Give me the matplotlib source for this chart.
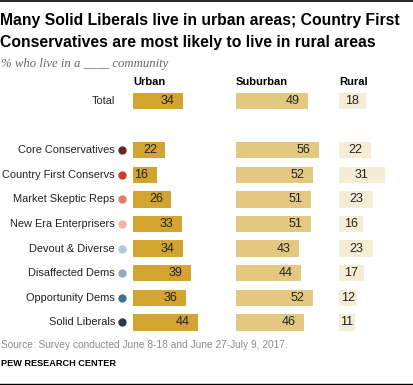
import matplotlib
matplotlib.use("Agg")
import matplotlib.pyplot as plt

# Data
groups = ["Total", "Core Conservatives", "Country First Conservs", "Market Skeptic Reps",
          "New Era Enterprisers", "Devout & Diverse", "Disaffected Dems",
          "Opportunity Dems", "Solid Liberals"]
urban = [34, 22, 16, 26, 33, 34, 39, 36, 44]
suburban = [49, 56, 52, 51, 51, 43, 44, 52, 46]
rural = [18, 22, 31, 23, 16, 23, 17, 12, 11]
dot_colors = [None, "#6b2121", "#c8402d", "#e37c6c", "#f2b2a8",
              "#b3c7da", "#8eabc6", "#4a6f8c", "#2a3a4c"]
columns = ["Urban", "Suburban", "Rural"]

# Layout (pixels)
W, H = 413, 385
plt.rcParams['font.family'] = ['Liberation Sans', 'DejaVu Sans']
fig = plt.figure(figsize=(W / 100, H / 100), dpi=100)

ypos = [0] + [i + 2 for i in range(8)]
px_per_unit = 1.475
row_px = 24.6
top_px = 101 - row_px / 2
bot_px = 101 + 9.5 * row_px
col_left = [133, 236, 339]
col_colors = ["#d3a42f", "#e2c881", "#f5ecd6"]
values = [urban, suburban, rural]

axes = []
for k in range(3):
    width_px = 100 if k < 2 else 70
    ax = fig.add_axes([col_left[k] / W, 1 - bot_px / H, width_px / W, (bot_px - top_px) / H])
    ax.set_xlim(0, width_px / px_per_unit)
    ax.set_ylim(9.5, -0.5)
    ax.axis("off")
    ax.barh(ypos, values[k], height=0.66, color=col_colors[k])
    for y, v in zip(ypos, values[k]):
        if k < 2:
            ax.text(v - 8.5 / px_per_unit, y, str(v), ha="right", va="center", fontsize=9, color="#222222")
        else:
            ax.text(v / 2, y, str(v), ha="center", va="center", fontsize=9, color="#222222")
    fig.text(col_left[k] / W, 1 - 82 / H, columns[k], ha="left", va="center", fontsize=8, fontweight="bold")
    axes.append(ax)

ax = axes[0]
for y, g, c in zip(ypos, groups, dot_colors):
    ax.text(-18 / px_per_unit, y, g, ha="right", va="center", fontsize=7.9, color="#222222", clip_on=False)
    if c:
        ax.plot([-11 / px_per_unit], [y], "o", color=c, markersize=5, clip_on=False)

# Titles and notes
fig.text(0.5 / W, 1 - 20 / H, "Many Solid Liberals live in urban areas; Country First",
         fontsize=11.3, fontweight="bold", va="center", ha="left")
fig.text(0.5 / W, 1 - 42 / H, "Conservatives are most likely to live in rural areas",
         fontsize=11.3, fontweight="bold", va="center", ha="left")
fig.text(1 / W, 1 - 64 / H, "% who live in a ____ community", fontsize=9.2, style="italic",
         family="Liberation Serif", color="#666666", va="center", ha="left")
fig.text(1 / W, 1 - 345 / H, "Source: Survey conducted June 8-18 and June 27-July 9, 2017.",
         fontsize=7.3, color="#8a8a8a", va="center", ha="left")
fig.text(1 / W, 1 - 363 / H, "PEW RESEARCH CENTER", fontsize=6.6, fontweight="bold",
         va="center", ha="left")

# Rules at top and bottom
fig.add_artist(plt.Line2D([0, 1], [1 - 0.5 / H, 1 - 0.5 / H], color="black", lw=1.2))
fig.add_artist(plt.Line2D([0, 1], [1 - 384 / H, 1 - 384 / H], color="black", lw=1.0))

fig.savefig("out.png", dpi=100)
